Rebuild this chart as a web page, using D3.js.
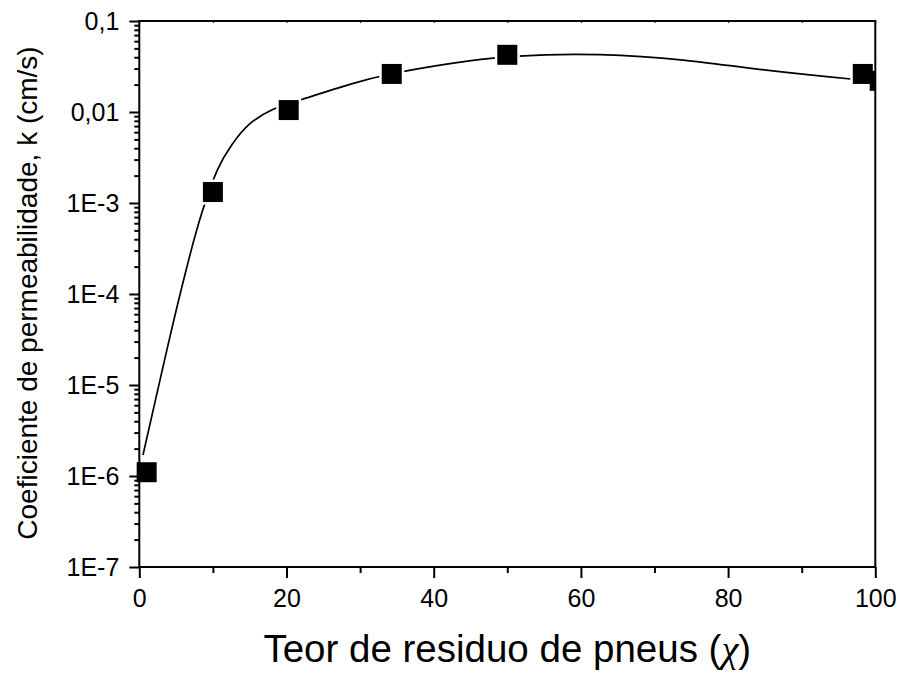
<!DOCTYPE html>
<html>
<head>
<meta charset="utf-8">
<script src="https://cdn.jsdelivr.net/npm/d3@7"></script>
<style>
  html, body { margin: 0; padding: 0; background: #fff; }
  svg text { font-family: Arial, "Liberation Sans", sans-serif; fill: #000; }
</style>
</head>
<body>
<svg id="chart" width="900" height="675"></svg>
<script>
// Measured permeability coefficient vs. tyre-residue content
const residueContent = [1, 10, 20.3, 34.3, 50, 98.3, 100.6];
const permeabilityK = [1.1e-6, 1.32e-3, 0.0105, 0.0262, 0.0425, 0.0262, 0.022];

// Smooth fitted trend line through the measurements
const fitContent = [0.5, 2.4, 4.6, 6.7, 8.5, 10.6, 12.6, 15, 18.2, 21.8, 28.6, 34.3, 42.2, 51.5, 62.6, 73.9, 85.2, 97, 100];
const fitK = [1.7e-6, 8.1e-6, 4.8e-5, 2.35e-4, 7.8e-4, 2.3e-3, 4.4e-3, 7.4e-3, 0.0107, 0.0135, 0.0201, 0.0263, 0.0340, 0.0412, 0.0427, 0.0372, 0.0288, 0.0229, 0.0219];

// Axis ticks and labels
const xMajorTicks = [0, 20, 40, 60, 80, 100];
const xMinorTicks = [10, 30, 50, 70, 90];
const yMajorTicks = [1e-7, 1e-6, 1e-5, 1e-4, 1e-3, 0.01, 0.1];
const yMajorLabels = ["1E-7", "1E-6", "1E-5", "1E-4", "1E-3", "0,01", "0,1"];

const xTitle = "Teor de residuo de pneus (";
const xTitleSymbol = "\u03C7";
const yTitle = "Coeficiente de permeabilidade, k (cm/s)";

const plot = { left: 139.3, right: 875.3, top: 21, bottom: 567 };

const svg = d3.select("#chart");

const x = d3.scaleLinear().domain([0, 100]).range([plot.left, plot.right]);
const y = d3.scaleLog().domain([1e-7, 0.1]).range([plot.bottom, plot.top]);

// minor log ticks: 2..9 within each decade
const yMinorTicks = [];
yMajorTicks.slice(0, -1).forEach(d => {
  for (let m = 2; m <= 9; m++) yMinorTicks.push(d * m);
});

svg.append("defs").append("clipPath").attr("id", "plotClip")
  .append("rect")
  .attr("x", plot.left - 15).attr("y", plot.top - 15)
  .attr("width", plot.right - plot.left + 15)
  .attr("height", plot.bottom - plot.top + 30);

const dataLayer = svg.append("g").attr("clip-path", "url(#plotClip)");

// fitted curve
const line = d3.line()
  .x((d, i) => x(fitContent[i]))
  .y((d, i) => y(fitK[i]))
  .curve(d3.curveNatural);

dataLayer.append("path")
  .datum(fitK)
  .attr("d", line)
  .attr("fill", "none")
  .attr("stroke", "#000")
  .attr("stroke-width", 1.7);

// square markers with a white gap around them
const pts = residueContent.map((c, i) => ({ c, k: permeabilityK[i] }));
const markerSize = 20;
const halo = 2.5;

dataLayer.selectAll("rect.halo").data(pts).join("rect")
  .attr("class", "halo")
  .attr("x", d => x(d.c) - markerSize / 2 - halo)
  .attr("y", d => y(d.k) - markerSize / 2 - halo)
  .attr("width", markerSize + 2 * halo)
  .attr("height", markerSize + 2 * halo)
  .attr("fill", "#fff");

dataLayer.selectAll("rect.marker").data(pts).join("rect")
  .attr("class", "marker")
  .attr("x", d => x(d.c) - markerSize / 2)
  .attr("y", d => y(d.k) - markerSize / 2)
  .attr("width", markerSize)
  .attr("height", markerSize)
  .attr("fill", "#000");

// axes
const axisStroke = 2;

function styleAxis(g) {
  g.select(".domain").remove();
  g.selectAll(".tick line").attr("stroke", "#000").attr("stroke-width", axisStroke);
}

// bottom axis
svg.append("g")
  .attr("transform", `translate(0,${plot.bottom})`)
  .call(d3.axisBottom(x).tickValues(xMajorTicks).tickSize(11).tickPadding(10).tickFormat(d3.format("d")))
  .call(styleAxis)
  .call(g => g.selectAll("text").attr("font-size", 25).attr("dy", "0.75em"));

svg.append("g")
  .attr("transform", `translate(0,${plot.bottom})`)
  .call(d3.axisBottom(x).tickValues(xMinorTicks).tickSize(6).tickFormat(""))
  .call(styleAxis);

// top axis small inner ticks
svg.append("g")
  .attr("transform", `translate(0,${plot.top})`)
  .call(d3.axisBottom(x).tickValues(xMajorTicks.concat(xMinorTicks)).tickSize(2).tickFormat(""))
  .call(styleAxis)
  .call(g => g.selectAll(".tick line").attr("stroke-width", 1));

// left axis
svg.append("g")
  .attr("transform", `translate(${plot.left},0)`)
  .call(d3.axisLeft(y).tickValues(yMajorTicks).tickSize(10).tickPadding(10)
    .tickFormat((d, i) => yMajorLabels[i]))
  .call(styleAxis)
  .call(g => g.selectAll("text").attr("font-size", 25).attr("dy", "0.35em"));

svg.append("g")
  .attr("transform", `translate(${plot.left},0)`)
  .call(d3.axisLeft(y).tickValues(yMinorTicks).tickSize(5).tickFormat(""))
  .call(styleAxis);

// frame
svg.append("rect")
  .attr("x", plot.left).attr("y", plot.top)
  .attr("width", plot.right - plot.left)
  .attr("height", plot.bottom - plot.top)
  .attr("fill", "none")
  .attr("stroke", "#000")
  .attr("stroke-width", axisStroke);

// titles
const xt = svg.append("text")
  .attr("x", (plot.left + plot.right) / 2)
  .attr("y", 662)
  .attr("text-anchor", "middle")
  .attr("font-size", 38.5);
xt.append("tspan").text(xTitle);
xt.append("tspan")
  .style("font-family", "'Liberation Serif', 'DejaVu Serif', serif")
  .style("font-style", "italic")
  .text(xTitleSymbol);
xt.append("tspan").text(")");

svg.append("text")
  .attr("transform", `translate(37,${293}) rotate(-90)`)
  .attr("text-anchor", "middle")
  .attr("font-size", 28)
  .text(yTitle);
</script>
</body>
</html>
